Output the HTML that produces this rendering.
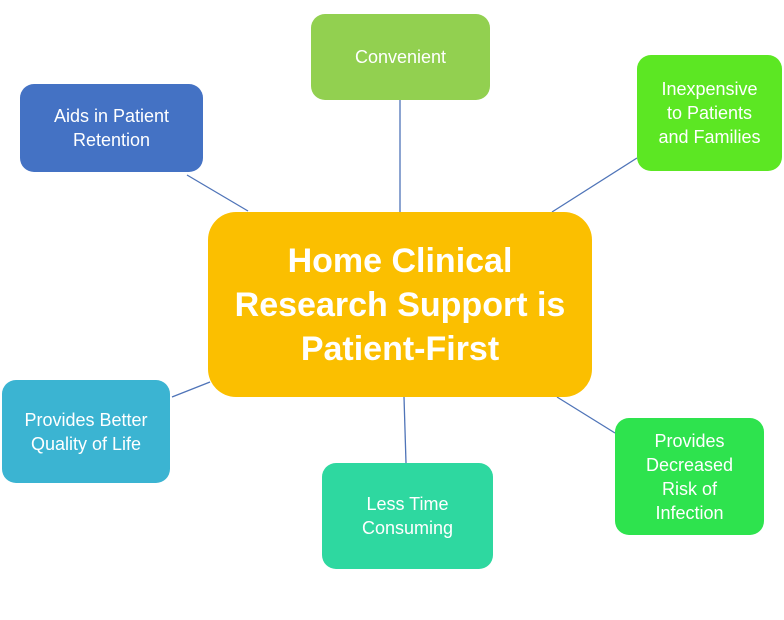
<!DOCTYPE html>
<html><head><style>
body{margin:0;width:784px;height:620px;background:#fff;position:relative;overflow:hidden;font-family:"Liberation Sans",sans-serif;}
.b{position:absolute;display:flex;align-items:center;justify-content:center;text-align:center;color:#fff;border-radius:14px;font-size:18px;line-height:24px;}
svg{position:absolute;left:0;top:0}
</style></head><body>
<svg width="784" height="620"><g stroke="#4f74b8" stroke-width="1.3">
<line x1="400" y1="100" x2="400" y2="212"/>
<line x1="187" y1="175" x2="248" y2="211"/>
<line x1="637" y1="158" x2="552" y2="212"/>
<line x1="172" y1="397" x2="210" y2="382"/>
<line x1="404" y1="397" x2="406" y2="463"/>
<line x1="557" y1="397" x2="615" y2="433"/>
</g></svg>
<div class="b" style="left:311px;top:14px;width:179px;height:86px;background:#92d050;">Convenient</div>
<div class="b" style="left:20px;top:84px;width:183px;height:88px;background:#4472c4;">Aids in Patient<br>Retention</div>
<div class="b" style="left:637px;top:55px;width:145px;height:116px;background:#5ce723;">Inexpensive<br>to Patients<br>and Families</div>
<div class="b" style="left:208px;top:212px;width:384px;height:185px;background:#fbbf00;border-radius:28px;font-size:34px;line-height:44px;font-weight:bold;">Home Clinical<br>Research Support is<br>Patient-First</div>
<div class="b" style="left:2px;top:380px;width:168px;height:103px;background:#3bb4d2;">Provides Better<br>Quality of Life</div>
<div class="b" style="left:322px;top:463px;width:171px;height:106px;background:#2ed8a0;">Less Time<br>Consuming</div>
<div class="b" style="left:615px;top:418px;width:149px;height:117px;background:#2ee34e;">Provides<br>Decreased<br>Risk of<br>Infection</div>
</body></html>
